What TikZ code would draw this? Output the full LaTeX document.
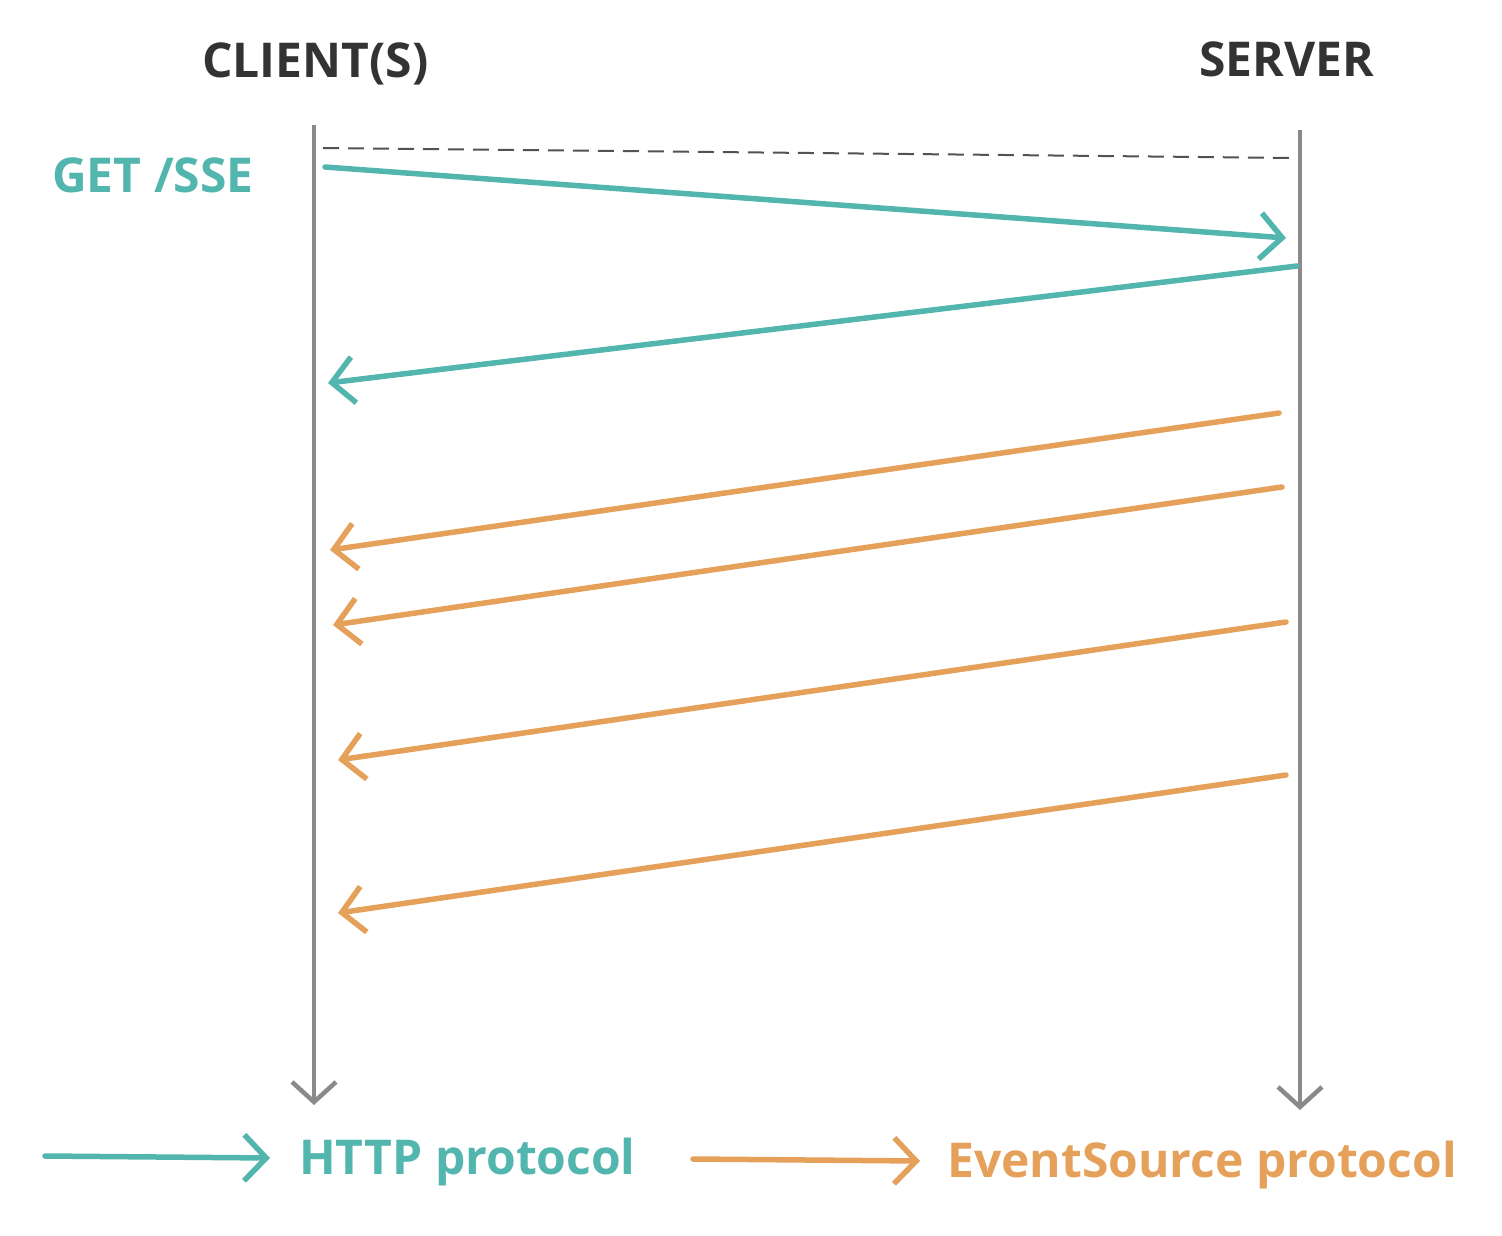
\documentclass[tikz,border=0pt]{standalone}
\usepackage{fontspec}
\setmainfont{Open Sans}
\usetikzlibrary{arrows.meta}
\definecolor{teal1}{HTML}{52B5AE}
\definecolor{orange1}{HTML}{E5A05A}
\definecolor{lifegray}{HTML}{8A8A8A}
\definecolor{dark}{HTML}{333333}
\tikzset{
  lifeline/.style={draw=lifegray, line width=4.5pt, -{Straight Barb[length=20pt,width=44pt,line width=4.5pt]}},
  httpmsg/.style={draw=teal1, line width=5.5pt, line cap=round, -{Straight Barb[length=22pt,width=46pt,line width=5.5pt]}},
  evmsg/.style={draw=orange1, line width=5.5pt, line cap=round, -{Straight Barb[length=22pt,width=46pt,line width=5.5pt]}},
  head/.style={text=dark, font=\bfseries\fontsize{48}{54}\selectfont, anchor=base west, inner sep=0pt},
  lbl/.style={font=\bfseries\fontsize{48}{54}\selectfont, anchor=base west, inner sep=0pt},
}
\begin{document}
\begin{tikzpicture}[x=1pt,y=-1pt]
\useasboundingbox (0,0) rectangle (1502,1236);
% headings
\node[head] (client) at (202,78) {CLIENT(S)};
\node[head] (server) at (1199,77) {SERVER};
\node[lbl, text=teal1] (get) at (52,192) {GET /SSE};
% lifelines
\coordinate (c0) at (314,125);
\coordinate (c1) at (314,1105);
\coordinate (s0) at (1300,130);
\coordinate (s1) at (1300,1110);
\draw[lifeline] (c0) -- (c1);
\draw[lifeline] (s0) -- (s1);
% dashed line
\coordinate (d0) at (323,148);
\coordinate (d1) at (1297,158);
\draw[draw=dark!85, line width=2pt, dash pattern=on 16pt off 9pt] (d0) -- (d1);
% HTTP messages
\coordinate (h1a) at (325,167);
\coordinate (h1b) at (1286,238);
\coordinate (h2a) at (1297,266);
\coordinate (h2b) at (328,383);
\draw[httpmsg] (h1a) -- (h1b);
\draw[httpmsg] (h2a) -- (h2b);
% EventSource messages
\coordinate (e1a) at (1279,413);
\coordinate (e1b) at (330,550);
\coordinate (e2a) at (1282,487);
\coordinate (e2b) at (333,625);
\coordinate (e3a) at (1286,622);
\coordinate (e3b) at (338,760);
\coordinate (e4a) at (1286,775);
\coordinate (e4b) at (338,913);
\draw[evmsg] (e1a) -- (e1b);
\draw[evmsg] (e2a) -- (e2b);
\draw[evmsg] (e3a) -- (e3b);
\draw[evmsg] (e4a) -- (e4b);
% legend
\coordinate (l1a) at (45,1156);
\coordinate (l1b) at (270,1158);
\coordinate (l2a) at (693,1159);
\coordinate (l2b) at (920,1161);
\draw[httpmsg] (l1a) -- (l1b);
\draw[evmsg] (l2a) -- (l2b);
\node[lbl, text=teal1] (httpl) at (299,1174) {HTTP protocol};
\node[lbl, text=orange1] (evl) at (947,1177) {EventSource protocol};
\end{tikzpicture}
\end{document}
